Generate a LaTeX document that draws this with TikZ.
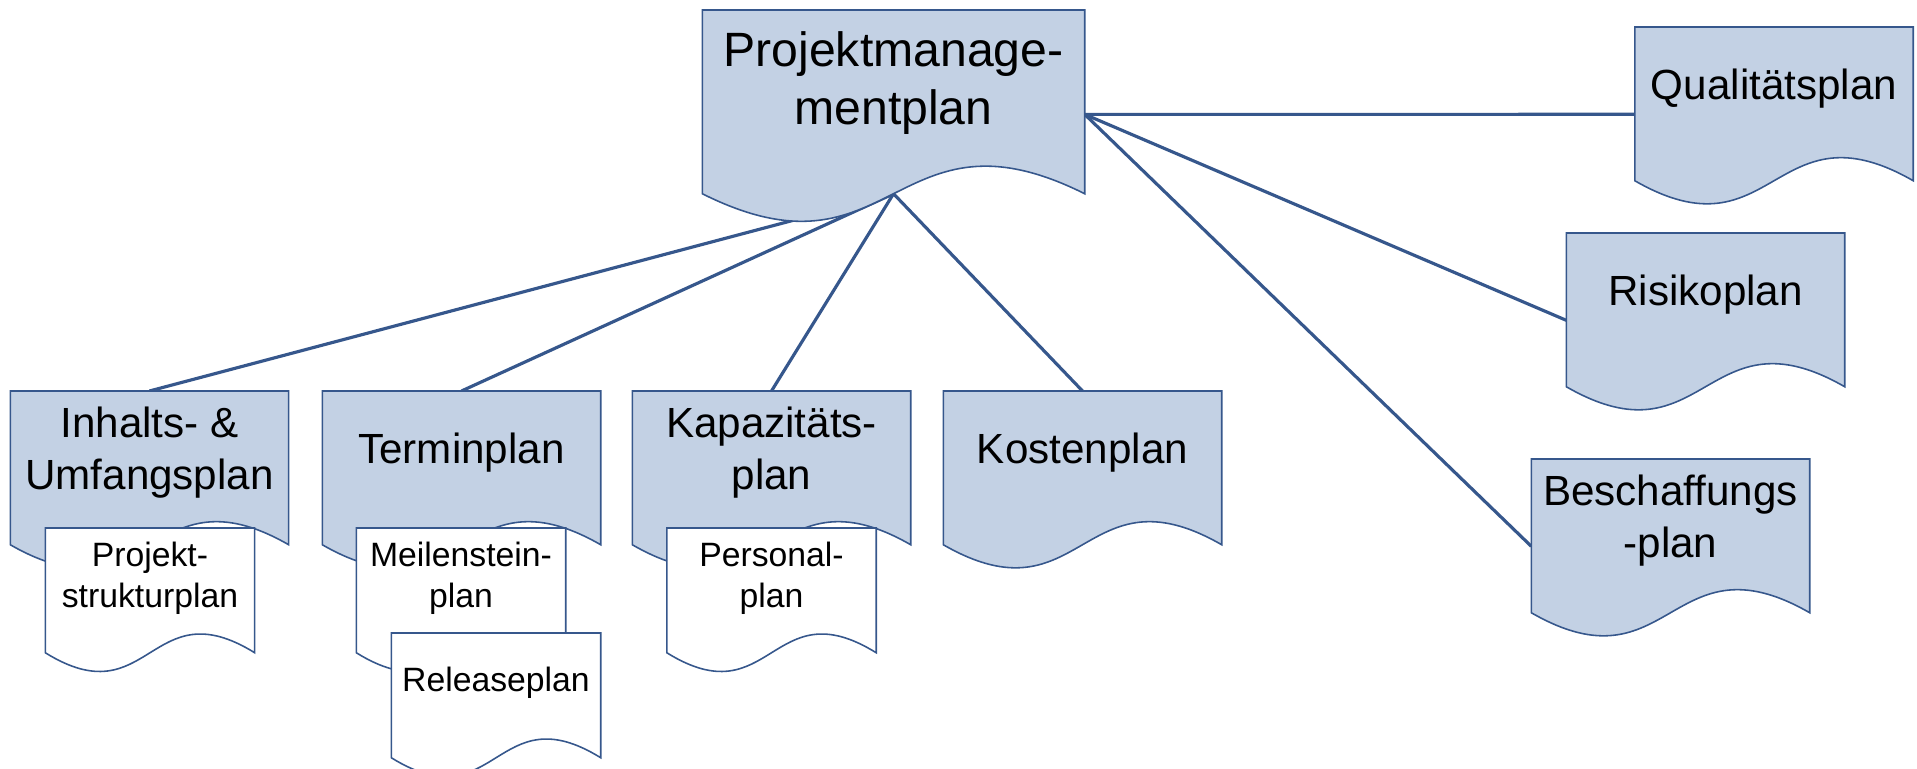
\documentclass[tikz,border=0pt]{standalone}
\usepackage{fontspec}
\setmainfont{Liberation Sans}
\usetikzlibrary{calc, backgrounds}

\definecolor{docblue}{RGB}{54,87,140}
\definecolor{docfill}{RGB}{195,209,228}

\tikzset{
  doctext/.style={rectangle, inner sep=0pt, anchor=north, align=center},
  pmdoc/.style={doctext, minimum width=3.81cm, minimum height=1.456cm,
    font=\fontsize{13.7}{16.5}\selectfont},
  bigdoc/.style={doctext, minimum width=2.77cm, minimum height=1.216cm,
    font=\fontsize{12}{14.8}\selectfont},
  smalldoc/.style={doctext, minimum width=2.08cm, minimum height=0.984cm,
    font=\fontsize{9.6}{11.7}\selectfont},
  docline/.style={draw=docblue, line width=0.45pt},
  conn/.style={draw=docblue, line width=0.9pt},
}

% document outline below a text node (wave at the bottom)
\newcommand{\docshape}[2]{%
  \path[docline, fill=#2] let \p1=(#1.north west), \p2=(#1.south east) in
    (\x1,\y1) -- (\x2,\y1) -- (\x2,{\y2-0.25*(\y1-\y2)})
    .. controls ({0.5*(\x1+\x2)},{\y2+0.4*(\y1-\y2)}) and ({0.5*(\x1+\x2)},{\y2-0.9*(\y1-\y2)})
    .. (\x1,{\y2-0.25*(\y1-\y2)}) -- cycle;}

\begin{document}
\begin{tikzpicture}
  \useasboundingbox (0,0) rectangle (19.17,-7.69);

  \node[pmdoc] (pm) at (8.935,-0.10) {Projektmanage-\\mentplan};

  \node[bigdoc] (qual) at (17.74,-0.27) {Qualitätsplan};
  \node[bigdoc] (risk) at (17.055,-2.33) {Risikoplan};
  \node[bigdoc] (besch) at (16.705,-4.59) {Beschaffungs\\-plan};

  \node[bigdoc] (inhalt) at (1.495,-3.91) {Inhalts- \&\\Umfangsplan};
  \node[bigdoc] (termin) at (4.615,-3.91) {Terminplan};
  \node[bigdoc] (kapaz) at (7.715,-3.91) {Kapazitäts-\\plan};
  \node[bigdoc] (kosten) at (10.825,-3.91) {Kostenplan};

  \node[smalldoc] (psp) at (1.50,-5.28) {Projekt-\\strukturplan};
  \node[smalldoc] (meilen) at (4.61,-5.28) {Meilenstein-\\plan};
  \node[smalldoc] (release) at (4.96,-6.33) {Releaseplan};
  \node[smalldoc] (personal) at (7.715,-5.28) {Personal-\\plan};

  \coordinate (pmfoot) at ($(pm.south)!-0.25!(pm.north)$);

  \begin{scope}[on background layer]
    % connectors
    \draw[conn] (pmfoot) -- (inhalt.north);
    \draw[conn] (pmfoot) -- (termin.north);
    \draw[conn] (pmfoot) -- (kapaz.north);
    \draw[conn] (pmfoot) -- (kosten.north);
    \draw[conn] ($(pm.north east)!0.71!(pm.south east)$) -- ($(qual.north west)!0.71!(qual.south west)$);
    \draw[conn] ($(pm.north east)!0.71!(pm.south east)$) -- ($(risk.north west)!0.71!(risk.south west)$);
    \draw[conn] ($(pm.north east)!0.71!(pm.south east)$) -- ($(besch.north west)!0.71!(besch.south west)$);

    % blue plans
    \docshape{pm}{docfill}
    \docshape{qual}{docfill}
    \docshape{risk}{docfill}
    \docshape{besch}{docfill}
    \docshape{inhalt}{docfill}
    \docshape{termin}{docfill}
    \docshape{kapaz}{docfill}
    \docshape{kosten}{docfill}

    % white sub-plans
    \docshape{psp}{white}
    \docshape{meilen}{white}
    \docshape{release}{white}
    \docshape{personal}{white}
  \end{scope}
\end{tikzpicture}
\end{document}
